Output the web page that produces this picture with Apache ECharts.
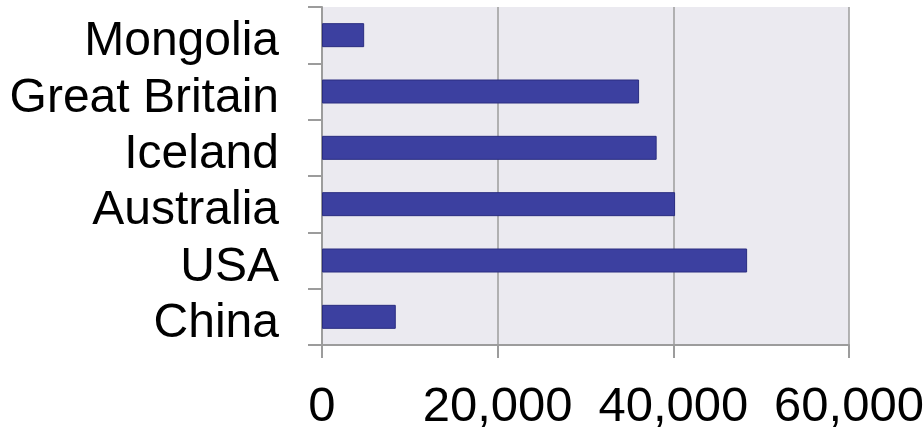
<!DOCTYPE html>
<html>
<head>
<meta charset="utf-8">
<script src="https://cdn.jsdelivr.net/npm/echarts@6/dist/echarts.min.js"></script>
<style>
  html, body { margin: 0; padding: 0; background: #ffffff; }
  #chart { width: 924px; height: 429px; }
</style>
</head>
<body>
<div id="chart"></div>
<script>
// Countries listed from the bottom of the axis upward
const countries = ['China', 'USA', 'Australia', 'Iceland', 'Great Britain', 'Mongolia'];
const values = [8400, 48400, 40200, 38100, 36100, 4800];
const xTicks = [0, 20000, 40000, 60000];

const axisGray = '#9c9c9c';
const labelFont = 'Liberation Sans, Arial, sans-serif';
const chart = echarts.init(document.getElementById('chart'), null, { renderer: 'canvas' });

chart.setOption({
  animation: false,
  grid: {
    left: 322, right: 75, top: 7, bottom: 84,
    outerBoundsMode: 'none',
    containLabel: false,
    show: true, backgroundColor: '#ebeaf0', borderWidth: 0
  },
  xAxis: {
    type: 'value',
    min: xTicks[0],
    max: xTicks[xTicks.length - 1],
    interval: xTicks[1] - xTicks[0],
    axisLine: { show: true, lineStyle: { color: axisGray, width: 2 } },
    axisTick: { show: true, length: 13, lineStyle: { color: axisGray, width: 2 } },
    splitLine: { show: true, lineStyle: { color: axisGray, width: 1.5 } },
    axisLabel: {
      margin: 38,
      color: '#000',
      fontFamily: labelFont,
      fontSize: 49,
      formatter: v => v.toLocaleString('en-US')
    }
  },
  yAxis: {
    type: 'category',
    data: countries,
    axisLine: { show: true, lineStyle: { color: axisGray, width: 2 } },
    axisTick: { show: true, interval: 0, length: 14, lineStyle: { color: axisGray, width: 2 } },
    axisLabel: {
      interval: 0,
      margin: 43,
      formatter: v => '{c|' + v + '}',
      rich: {
        c: {
          color: '#000',
          fontFamily: labelFont,
          fontSize: 48,
          padding: [14, 0, 0, 0]
        }
      }
    }
  },
  series: [{
    type: 'bar',
    data: values,
    barWidth: 24,
    itemStyle: { color: '#3c40a0', borderColor: '#2a2d80', borderWidth: 1 }
  }]
});
</script>
</body>
</html>
